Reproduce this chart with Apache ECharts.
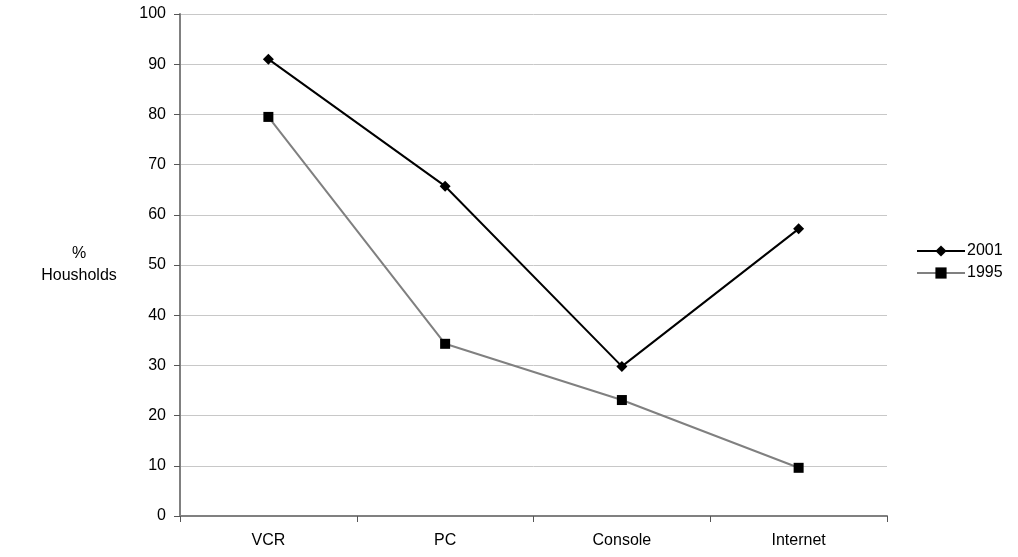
<!DOCTYPE html>
<html><head><meta charset="utf-8">
<script src="https://cdn.jsdelivr.net/npm/echarts@6/dist/echarts.min.js"></script>
<style>html,body{margin:0;padding:0;background:#fff}#c{width:1018px;height:557px}</style>
</head><body><div id="c"></div>
<script>
const categories = ['VCR', 'PC', 'Console', 'Internet'];
const values2001 = [91, 65.7, 29.8, 57.2];
const values1995 = [79.5, 34.3, 23.1, 9.6];
const yTicks = [0, 10, 20, 30, 40, 50, 60, 70, 80, 90, 100];

const font = 'Liberation Sans, Arial, sans-serif';
const chart = echarts.init(document.getElementById('c'));
chart.setOption({
  animation: false,
  backgroundColor: '#fff',
  grid: { left: 180, right: 131, top: 14, bottom: 41, containLabel: false },
  legend: {
    orient: 'vertical', left: 911, top: 238, itemWidth: 48, itemHeight: 14, itemGap: 6,
    textStyle: { fontFamily: font, fontSize: 16, color: '#000', padding: [0,0,0,-3] },
    data: ['2001', '1995']
  },
  graphic: [{
    type: 'text', x: 79, y: 265,
    style: { text: '%\nHousholds', fontFamily: font, fontSize: 16, fill: '#000', align: 'center', verticalAlign: 'middle', lineHeight: 22 }
  }],
  xAxis: {
    type: 'category', data: categories, boundaryGap: true,
    axisLine: { lineStyle: { color: '#808080', width: 2 } },
    axisTick: { show: true, alignWithLabel: false, length: 6, lineStyle: { color: '#555' } },
    axisLabel: { fontFamily: font, fontSize: 16, color: '#000', margin: 17 },
    splitLine: { show: false }
  },
  yAxis: {
    type: 'value', min: 0, max: 100, interval: 10,
    axisLine: { show: true, lineStyle: { color: '#808080', width: 2 } },
    axisTick: { show: true, length: 6, inside: false, lineStyle: { color: '#555' } },
    axisLabel: { fontFamily: font, fontSize: 16, color: '#000', margin: 14,
      formatter: v => yTicks.includes(v) ? String(v) : '' },
    splitLine: { show: true, lineStyle: { color: '#c8c8c8', width: 1 } }
  },
  series: [
    { name: '2001', type: 'line', data: values2001, symbol: 'diamond', symbolSize: 11,
      lineStyle: { color: '#000', width: 2 }, itemStyle: { color: '#000' }, color: '#000' },
    { name: '1995', type: 'line', data: values1995, symbol: 'rect', symbolSize: 10,
      lineStyle: { color: '#808080', width: 2 }, itemStyle: { color: '#000' }, color: '#808080' }
  ]
});
</script></body></html>
